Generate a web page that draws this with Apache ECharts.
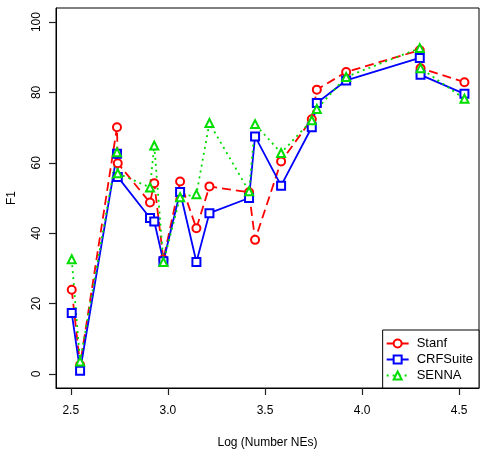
<!DOCTYPE html>
<html>
<head>
<meta charset="utf-8">
<script src="https://cdn.jsdelivr.net/npm/echarts@6/dist/echarts.min.js"></script>
<style>
  html, body { margin: 0; padding: 0; background: #fff; }
  #myChart { width: 486px; height: 456px; }
</style>
</head>
<body>
<div id="myChart"></div>
<script>
// x = log(number of NEs)
var logNEs = [2.505, 2.548, 2.738, 2.742, 2.908, 2.930, 2.977, 3.063, 3.147, 3.214,
              3.418, 3.449, 3.583, 3.741, 3.767, 3.918, 4.297, 4.301, 4.527];
var stanf = [23.9, 2.5, 70.1, 59.9, 48.7, 54.2, 32.5, 54.7, 41.4, 53.3,
             51.6, 38.1, 60.4, 72.4, 80.8, 85.8, 92.0, 86.9, 82.9];
var crfSuite = [17.3, 0.9, 62.6, 56.0, 44.3, 43.3, 32.0, 51.7, 31.8, 45.7,
                50.0, 67.5, 53.5, 70.1, 77.0, 83.4, 89.8, 85.0, 79.6];
var senna = [32.6, 3.5, 63.0, 57.0, 53.0, 64.9, 31.8, 50.2, 51.1, 71.3,
             51.9, 71.0, 62.8, 72.1, 75.3, 84.4, 92.6, 86.9, 78.2];
var xTicks = [2.5, 3.0, 3.5, 4.0, 4.5];
var yTicks = [0, 20, 40, 60, 80, 100];

function pairs(ys) {
  return logNEs.map(function (x, i) { return [x, ys[i]]; });
}

var font = "'Liberation Sans', Arial, sans-serif";
var myChart = echarts.init(document.getElementById("myChart"), null, { renderer: "canvas" });

function mkSeries(name, ys, color, symbol, lineType) {
  return {
    name: name,
    type: "line",
    data: pairs(ys),
    symbol: symbol,
    symbolSize: 8,
    showAllSymbol: true,
    animation: false,
    lineStyle: { color: color, width: 1.8, type: lineType },
    itemStyle: { color: color, borderColor: color, borderWidth: 1.6 },
    emphasis: { disabled: true }
  };
}

var option = {
  animation: false,
  grid: {
    left: 56, right: 7, top: 8, bottom: 68,
    outerBoundsMode: "none",
    containLabel: false,
    show: true, borderColor: "#000", borderWidth: 1, backgroundColor: "transparent"
  },
  legend: {
    orient: "vertical",
    right: 7,
    bottom: 68,
    padding: [7, 6, 6, 3],
    itemGap: 3,
    itemWidth: 22,
    itemHeight: 10,
    backgroundColor: "#fff",
    borderColor: "#000",
    borderWidth: 1,
    borderRadius: 0,
    textStyle: { fontFamily: font, fontSize: 13, color: "#000", padding: [0, 0, 0, 3] },
    data: ["Stanf", "CRFSuite", "SENNA"]
  },
  xAxis: {
    type: "value",
    min: 2.424,
    max: 4.602,
    name: "Log (Number NEs)",
    nameLocation: "middle",
    nameGap: 49,
    nameTextStyle: { fontFamily: font, fontSize: 12, color: "#000" },
    axisLine: { show: true, onZero: false, lineStyle: { color: "#000", width: 1 } },
    splitLine: { show: false },
    axisTick: { show: true, inside: false, length: 7, customValues: xTicks, lineStyle: { color: "#222", width: 1.2 } },
    axisLabel: {
      customValues: xTicks, margin: 17,
      fontFamily: font, fontSize: 12, color: "#000",
      formatter: function (v) { return v.toFixed(1); }
    }
  },
  yAxis: {
    type: "value",
    min: -4,
    max: 104,
    name: "F1",
    nameLocation: "middle",
    nameRotate: 90,
    nameGap: 38,
    nameTextStyle: { fontFamily: font, fontSize: 12, color: "#000" },
    axisLine: { show: true, onZero: false, lineStyle: { color: "#000", width: 1 } },
    splitLine: { show: false },
    axisTick: { show: true, inside: false, length: 7, customValues: yTicks, lineStyle: { color: "#222", width: 1.2 } },
    axisLabel: {
      customValues: yTicks, margin: 13, rotate: 90,
      fontFamily: font, fontSize: 12, color: "#000"
    }
  },
  series: [
    mkSeries("Stanf", stanf, "#ff0000", "emptyCircle", [9, 5]),
    mkSeries("CRFSuite", crfSuite, "#0000ff", "emptyRect", "solid"),
    mkSeries("SENNA", senna, "#00dd00", "emptyTriangle", [2, 4])
  ]
};
myChart.setOption(option);
window.onresize = myChart.resize;
</script>
</body>
</html>
